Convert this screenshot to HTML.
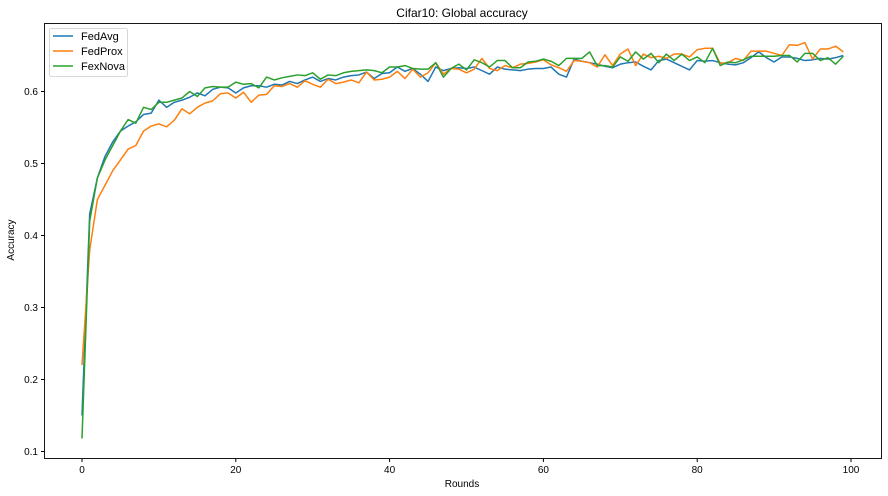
<!DOCTYPE html>
<html><head><meta charset="utf-8"><style>
html,body{margin:0;padding:0;background:#fff;}
svg{display:block;font-family:"Liberation Sans","DejaVu Sans",sans-serif;}
</style></head><body>
<svg id="chart" width="888" height="496" viewBox="0 0 888 496">
<rect x="0" y="0" width="888" height="496" fill="#fff"/>
<text x="462" y="17" font-size="12" text-anchor="middle" fill="#000">Cifar10: Global accuracy</text>
<text x="462" y="487" font-size="10" text-anchor="middle" fill="#000">Rounds</text>
<text x="14" y="240" font-size="10" text-anchor="middle" fill="#000" transform="rotate(-90 14 240)">Accuracy</text>
<g id="ticks"></g>
<g id="series"></g>
<rect x="44.5" y="23.5" width="837" height="435" fill="none" stroke="#000" stroke-width="0.9"/>
<g>
<rect x="49.5" y="28.5" width="78" height="48" fill="#fff" fill-opacity="0.8" stroke="#ccc" stroke-width="0.8" rx="2"/>
<g><line x1="53" y1="36" x2="73" y2="36" stroke="#1f77b4" stroke-width="1.5"/><text x="81" y="40" font-size="11">FedAvg</text></g>
<g><line x1="53" y1="51" x2="73" y2="51" stroke="#ff7f0e" stroke-width="1.5"/><text x="81" y="55" font-size="11">FedProx</text></g>
<g><line x1="53" y1="66" x2="73" y2="66" stroke="#2ca02c" stroke-width="1.5"/><text x="81" y="70" font-size="11">FexNova</text></g>
</g>
</svg>
<script>
const xTicks = [0,20,40,60,80,100];
const yTicks = [0.1,0.2,0.3,0.4,0.5,0.6];
const fedAvg = [0.15,0.43,0.48,0.51,0.53,0.545,0.552,0.558,0.568,0.570,0.588,0.578,0.585,0.588,0.592,0.598,0.594,0.603,0.606,0.605,0.598,0.605,0.608,0.608,0.606,0.610,0.609,0.614,0.611,0.616,0.620,0.614,0.618,0.616,0.620,0.622,0.623,0.627,0.618,0.625,0.626,0.634,0.628,0.632,0.624,0.614,0.634,0.629,0.632,0.633,0.632,0.634,0.629,0.624,0.634,0.631,0.630,0.629,0.631,0.632,0.632,0.634,0.624,0.620,0.645,0.642,0.640,0.638,0.635,0.633,0.638,0.640,0.641,0.635,0.630,0.643,0.645,0.640,0.635,0.630,0.643,0.642,0.643,0.640,0.638,0.637,0.640,0.647,0.655,0.647,0.641,0.648,0.648,0.646,0.643,0.644,0.646,0.645,0.647,0.650];
const fedProx = [0.22,0.38,0.45,0.47,0.49,0.505,0.52,0.525,0.545,0.552,0.555,0.551,0.56,0.576,0.569,0.578,0.584,0.587,0.597,0.598,0.591,0.599,0.585,0.595,0.596,0.608,0.607,0.611,0.606,0.615,0.610,0.606,0.617,0.611,0.613,0.616,0.612,0.627,0.616,0.617,0.620,0.628,0.618,0.631,0.620,0.626,0.640,0.624,0.632,0.631,0.626,0.631,0.646,0.632,0.629,0.636,0.633,0.638,0.639,0.641,0.644,0.637,0.633,0.628,0.643,0.642,0.640,0.634,0.651,0.636,0.652,0.659,0.636,0.652,0.647,0.649,0.646,0.652,0.652,0.648,0.658,0.660,0.660,0.639,0.640,0.646,0.643,0.656,0.656,0.656,0.653,0.650,0.665,0.664,0.668,0.645,0.659,0.659,0.663,0.655];
const fexNova = [0.118,0.42,0.48,0.505,0.525,0.545,0.561,0.556,0.578,0.575,0.585,0.585,0.588,0.591,0.600,0.593,0.605,0.607,0.606,0.606,0.613,0.610,0.611,0.605,0.620,0.616,0.619,0.621,0.623,0.622,0.626,0.617,0.623,0.622,0.626,0.628,0.629,0.630,0.629,0.626,0.634,0.634,0.636,0.632,0.631,0.631,0.640,0.620,0.632,0.638,0.630,0.644,0.640,0.634,0.643,0.643,0.633,0.633,0.641,0.642,0.645,0.642,0.636,0.646,0.646,0.646,0.655,0.636,0.636,0.634,0.648,0.642,0.655,0.645,0.653,0.640,0.652,0.643,0.652,0.643,0.648,0.640,0.660,0.636,0.641,0.640,0.644,0.649,0.649,0.649,0.649,0.650,0.650,0.641,0.653,0.653,0.643,0.647,0.638,0.649];

const NS = "http://www.w3.org/2000/svg";
function xScale(r){ return 82 + r * 7.69; }
function yScale(v){ return 91.5 + (0.6 - v) * 720; }

const tg = document.getElementById('ticks');
xTicks.forEach(t => {
  const x = xScale(t);
  const l = document.createElementNS(NS,'line');
  l.setAttribute('x1',x); l.setAttribute('x2',x); l.setAttribute('y1',458.5); l.setAttribute('y2',462);
  l.setAttribute('stroke','#000');
  
  
  tg.appendChild(l);
  const tx = document.createElementNS(NS,'text');
  tx.setAttribute('x',x); tx.setAttribute('y',473); tx.setAttribute('font-size','10'); tx.setAttribute('text-anchor','middle');
  tx.textContent = t;
  
  
  tg.appendChild(tx);
});
yTicks.forEach(t => {
  const y = yScale(t);
  const l = document.createElementNS(NS,'line');
  l.setAttribute('x1',41); l.setAttribute('x2',44.5); l.setAttribute('y1',y); l.setAttribute('y2',y);
  l.setAttribute('stroke','#000');
  
  
  tg.appendChild(l);
  const tx = document.createElementNS(NS,'text');
  tx.setAttribute('x',38); tx.setAttribute('y',y+3.5); tx.setAttribute('font-size','10'); tx.setAttribute('text-anchor','end');
  tx.textContent = t.toFixed(1);
  
  
  tg.appendChild(tx);
});

const sg = document.getElementById('series');
function drawLine(vals, color, name){
  const p = document.createElementNS(NS,'polyline');
  p.setAttribute('points', vals.map((v,i)=>xScale(i).toFixed(2)+','+yScale(v).toFixed(2)).join(' '));
  p.setAttribute('fill','none'); p.setAttribute('stroke',color); p.setAttribute('stroke-width','1.5');
  p.setAttribute('stroke-linejoin','round');
  
  
  sg.appendChild(p);
}
drawLine(fedAvg,'#1f77b4','fedavg-line');
drawLine(fedProx,'#ff7f0e','fedprox-line');
drawLine(fexNova,'#2ca02c','fexnova-line');
</script>
</body></html>
